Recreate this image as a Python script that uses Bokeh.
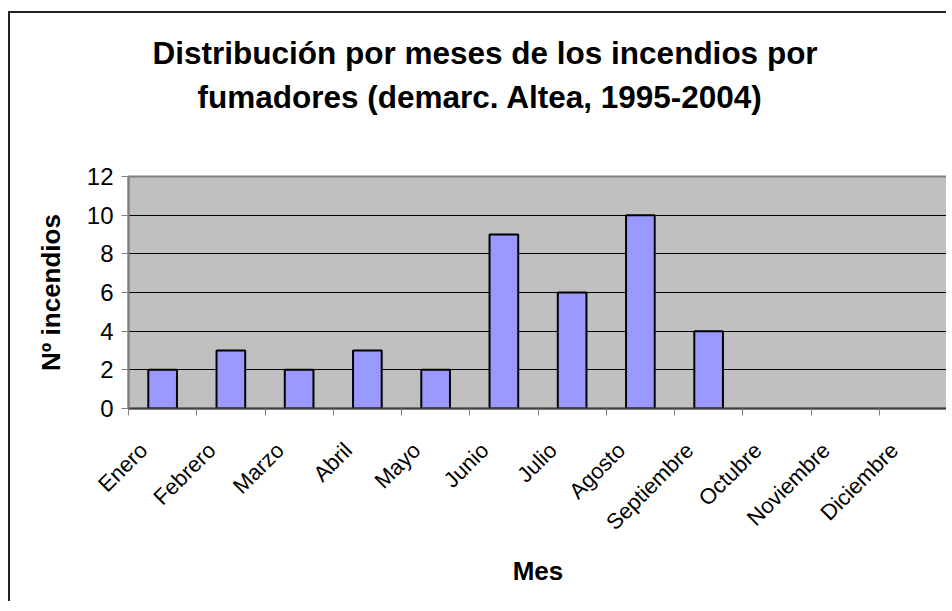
import math
from bokeh.plotting import figure
from bokeh.models import Range1d, FixedTicker, Title, LinearAxis
from bokeh.embed import file_html
from bokeh.resources import INLINE

months = ["Enero", "Febrero", "Marzo", "Abril", "Mayo", "Junio", "Julio",
          "Agosto", "Septiembre", "Octubre", "Noviembre", "Diciembre"]
counts = [2, 3, 2, 3, 2, 9, 6, 10, 4, 0, 0, 0]
y_ticks = [0, 2, 4, 6, 8, 10, 12]
title_lines = ["Distribución por meses de los incendios por",
               "fumadores (demarc. Altea, 1995-2004)"]
x_title = "Mes"
y_title = "Nº incendios"

FONT = "Liberation Sans"

n = len(months)
centers = [i + 0.5 for i in range(n)]
boundaries = list(range(n + 1))
label_pos = [round(c - 0.28, 2) for c in centers]

bx = [c for c, v in zip(centers, counts) if v > 0]
bt = [v for v in counts if v > 0]

p = figure(width=938, height=590, output_backend="svg", toolbar_location=None,
           x_range=Range1d(0, n), y_range=Range1d(y_ticks[0], y_ticks[-1]),
           min_border_left=118, min_border_right=1, min_border_top=163,
           min_border_bottom=195, title=None)
p.styles = {"border-left": "2px solid #222", "border-top": "2px solid #222",
            "margin-top": "11px", "margin-left": "8px"}

p.background_fill_color = "#C0C0C0"
p.border_fill_color = "white"
p.outline_line_color = "#808080"
p.outline_line_width = 2

p.vbar(x=bx, top=bt, width=0.42, bottom=0, fill_color="#9999FF",
       line_color="black", line_width=2)

p.xgrid.visible = False
p.ygrid.ticker = FixedTicker(ticks=y_ticks)
p.ygrid.grid_line_color = "black"
p.ygrid.grid_line_width = 1

# y axis
ya = p.yaxis[0]
ya.ticker = FixedTicker(ticks=y_ticks)
ya.major_label_text_font = FONT
ya.major_label_text_font_size = "24px"
ya.major_label_text_color = "black"
ya.major_tick_out = 7
ya.major_tick_in = 0
ya.major_tick_line_color = "#808080"
ya.minor_tick_line_color = None
ya.axis_line_color = "#808080"
ya.axis_line_width = 2
ya.major_label_standoff = 8
ya.axis_label = y_title
ya.axis_label_text_font = FONT
ya.axis_label_text_font_size = "26px"
ya.axis_label_text_font_style = "bold"
ya.axis_label_text_color = "black"
ya.axis_label_standoff = 18

# x axis
xa = p.xaxis[0]
xa.ticker = FixedTicker(ticks=label_pos, minor_ticks=boundaries)
xa.major_label_overrides = {pos: m for pos, m in zip(label_pos, months)}
xa.major_tick_line_color = None
xa.minor_tick_line_color = "#808080"
xa.minor_tick_out = 7
xa.minor_tick_in = 0
xa.axis_line_color = "#404040"
xa.axis_line_width = 2
xa.major_label_orientation = math.pi / 4
xa.major_label_text_font = FONT
xa.major_label_text_font_size = "22px"
xa.major_label_text_color = "black"
xa.major_label_standoff = 31
xa.axis_label = x_title
xa.axis_label_text_font = FONT
xa.axis_label_text_font_size = "26px"
xa.axis_label_text_font_style = "bold"
xa.axis_label_text_color = "black"
xa.axis_label_standoff = 9

# invisible spacer between the frame and the title lines
spacer = LinearAxis(ticker=FixedTicker(ticks=[0]), axis_line_color=None,
                    major_tick_line_color=None, minor_tick_line_color=None,
                    major_tick_out=58, major_tick_in=0, minor_tick_out=0,
                    minor_tick_in=0, major_label_standoff=0,
                    major_label_text_font_size="0px",
                    major_label_overrides={0: ""})
p.add_layout(spacer, "above")

t2 = Title(text=title_lines[1], align="left", offset=69, standoff=7,
           text_font=FONT, text_font_size="31.5px", text_font_style="bold",
           text_color="black")
t1 = Title(text=title_lines[0], align="left", offset=24, standoff=6,
           text_font=FONT, text_font_size="31.5px", text_font_style="bold",
           text_color="black")
p.add_layout(t2, "above")
p.add_layout(t1, "above")

open("out.html", "w").write(file_html(p, INLINE))
